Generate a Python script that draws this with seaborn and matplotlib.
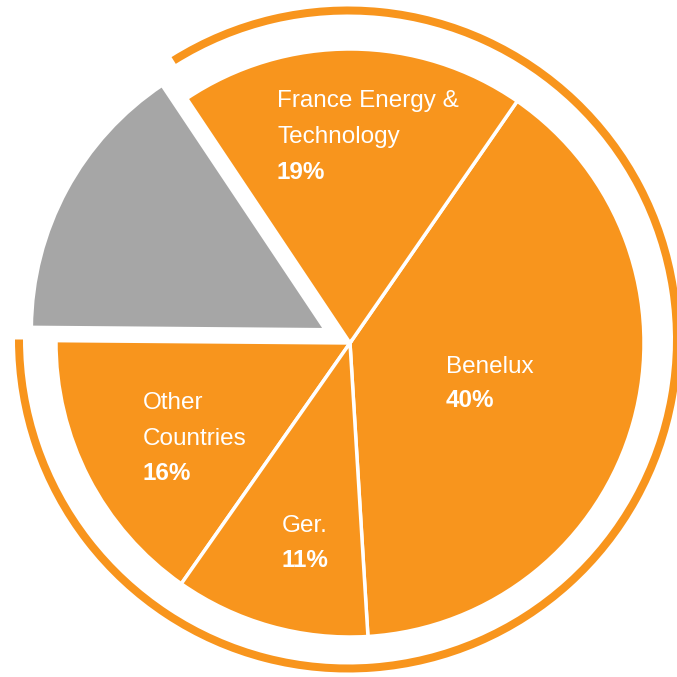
import matplotlib
matplotlib.use("Agg")
import matplotlib.pyplot as plt
from matplotlib.patches import Wedge
import seaborn as sns

# ---- data ----
segments = ["Benelux", "France Energy & Technology", "Other (grey)", "Other Countries", "Ger."]
shares = [39.4, 19.0, 15.5, 15.4, 10.7]
name_lines = [["Benelux"], ["France Energy &", "Technology"], [], ["Other", "Countries"], ["Ger."]]
pct_labels = ["40%", "19%", "", "16%", "11%"]

ORANGE = "#F8951D"
GREY = "#A6A6A6"
colors = [ORANGE, ORANGE, GREY, ORANGE, ORANGE]

sns.set_style("white")
plt.rcParams["font.family"] = ["Liberation Sans", "DejaVu Sans"]

W = 677
fig = plt.figure(figsize=(6.77, 6.77), dpi=100)
ax = fig.add_axes([0, 0, 1, 1])

# pie (pixel-like data units, y measured upward)
cx, cy = 350, W - 343
wedges, _ = ax.pie(
    shares,
    colors=colors,
    startangle=273.5,
    counterclock=True,
    radius=294,
    center=(cx, cy),
    explode=[0, 0, 28, 0, 0],
    wedgeprops=dict(edgecolor="white", linewidth=2.5),
)

# outer orange ring around the orange segments
ring = Wedge((348, W - 339.5), 333, 180, 482, width=8, facecolor=ORANGE, edgecolor="none")
ax.add_patch(ring)

# labels: (x, first baseline, line spacing) in image pixel coords
label_layout = [(446, 373, 34), (277, 106.7, 36.2), None, (143, 409.3, 35.5), (281.5, 531.7, 35.6)]
fs = 17.5
for lines, pct, lay in zip(name_lines, pct_labels, label_layout):
    if lay is None:
        continue
    x, y0, dy = lay
    for i, t in enumerate(lines):
        ax.text(x, W - (y0 + i * dy), t, color="white", fontsize=fs,
                ha="left", va="baseline")
    ax.text(x, W - (y0 + len(lines) * dy), pct, color="white", fontsize=fs,
            fontweight="bold", ha="left", va="baseline")

ax.set_xlim(0, W)
ax.set_ylim(0, W)
ax.set_aspect("equal")
ax.axis("off")

fig.savefig("out.png", dpi=100, facecolor="white")
